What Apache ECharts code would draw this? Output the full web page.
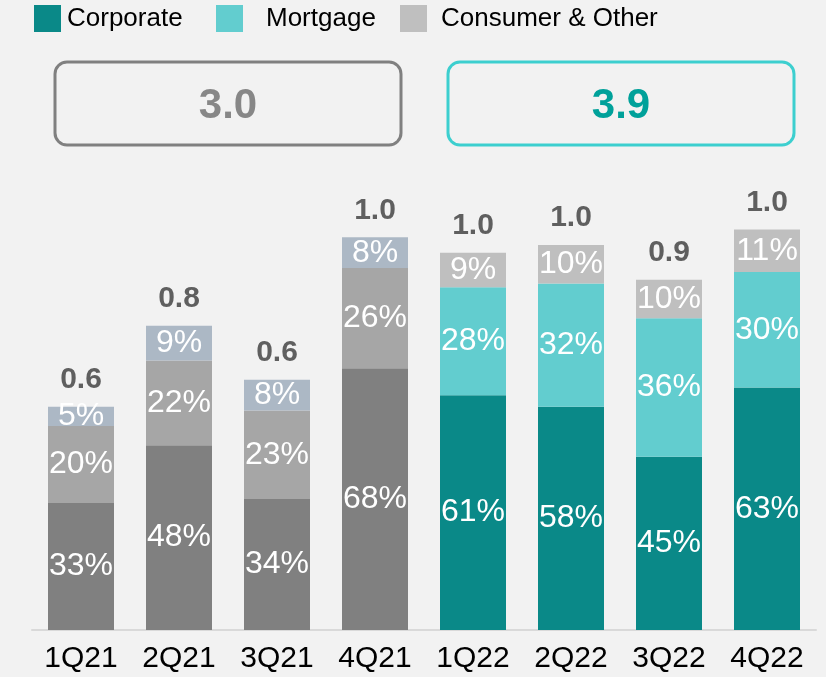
<!DOCTYPE html>
<html>
<head>
<meta charset="utf-8">
<title>Loan mix by quarter</title>
<script src="https://cdn.jsdelivr.net/npm/echarts@6/dist/echarts.min.js"></script>
<style>
  html, body { margin: 0; padding: 0; background: #f2f2f2; }
  #chart { width: 826px; height: 677px; }
</style>
</head>
<body>
<div id="chart"></div>
<script>
// Quarter categories
const quarters = ['1Q21', '2Q21', '3Q21', '4Q21', '1Q22', '2Q22', '3Q22', '4Q22'];

// Segment shares (%), bottom to top
const corporate = [33, 48, 34, 68, 61, 58, 45, 63];
const mortgage = [20, 22, 23, 26, 28, 32, 36, 30];
const consumer = [5, 9, 8, 8, 9, 10, 10, 11];

// Totals shown above each bar
const totals = ['0.6', '0.8', '0.6', '1.0', '1.0', '1.0', '0.9', '1.0'];

// Yearly totals in the boxes
const yearTotals = ['3.0', '3.9'];

// 2021 bars are drawn in greys, 2022 in teal
const COLORS_2021 = ['#808080', '#a6a6a6', '#acb8c5'];
const COLORS_2022 = ['#0a8988', '#62cdcf', '#bfbfbf'];

const FONT = '"Liberation Sans", Arial, sans-serif';

function colorData(values, idx) {
    return values.map((v, i) => ({
        value: v,
        itemStyle: { color: quarters[i].endsWith('21') ? COLORS_2021[idx] : COLORS_2022[idx] }
    }));
}

function barSeries(name, values, idx) {
    return {
        name: name,
        type: 'bar',
        stack: 'mix',
        barWidth: 66,
        itemStyle: { color: COLORS_2022[idx] },
        label: {
            show: true,
            position: 'inside',
            formatter: '{c}%',
            color: '#ffffff',
            fontFamily: FONT,
            fontSize: 32
        },
        emphasis: { disabled: true },
        data: colorData(values, idx)
    };
}

const stackTops = quarters.map((q, i) => corporate[i] + mortgage[i] + consumer[i]);

function legendItem(name, left, pad) {
    return {
        data: [name],
        left: left,
        top: 5,
        padding: 0,
        itemWidth: 27,
        itemHeight: 27,
        icon: 'rect',
        selectedMode: false,
        textStyle: {
            fontFamily: FONT,
            fontSize: 26,
            color: '#000000',
            padding: [3, 0, 0, pad]
        }
    };
}

function yearBox(x, width, stroke, textColor, text) {
    return {
        type: 'group',
        children: [
            {
                type: 'rect',
                shape: { x: x, y: 62, width: width, height: 83, r: 12 },
                style: { fill: 'none', stroke: stroke, lineWidth: 3 }
            },
            {
                type: 'text',
                x: x + width / 2,
                y: 106,
                style: {
                    text: text,
                    fill: textColor,
                    font: 'bold 42px ' + FONT,
                    align: 'center',
                    verticalAlign: 'middle'
                }
            }
        ]
    };
}

const chart = echarts.init(document.getElementById('chart'));

const option = {
    backgroundColor: '#f2f2f2',
    animation: false,
    legend: [
        legendItem('Corporate', 34, 1),
        legendItem('Mortgage', 216, 18),
        legendItem('Consumer & Other', 400, 9)
    ],
    grid: { left: 32, right: 10, top: 168, bottom: 47 },
    xAxis: {
        type: 'category',
        data: quarters,
        axisLine: { lineStyle: { color: '#d9d9d9', width: 2 } },
        axisTick: { show: false },
        axisLabel: {
            color: '#000000',
            fontFamily: FONT,
            fontSize: 30,
            margin: 14
        }
    },
    yAxis: {
        type: 'value',
        min: 0,
        max: 120,
        show: false,
        splitLine: { show: false }
    },
    series: [
        barSeries('Corporate', corporate, 0),
        barSeries('Mortgage', mortgage, 1),
        barSeries('Consumer & Other', consumer, 2),
        {
            name: 'Total',
            type: 'scatter',
            symbolSize: 0,
            z: 10,
            label: {
                show: true,
                position: 'top',
                distance: 12,
                formatter: p => totals[p.dataIndex],
                color: '#3a3a3a',
                fontFamily: FONT,
                fontWeight: 'bold',
                fontSize: 30
            },
            emphasis: { disabled: true },
            data: stackTops
        }
    ],
    graphic: [
        yearBox(55, 346, '#808080', '#878787', yearTotals[0]),
        yearBox(448, 346, '#3dcfcf', '#00a19a', yearTotals[1])
    ]
};

chart.setOption(option);
</script>
</body>
</html>
